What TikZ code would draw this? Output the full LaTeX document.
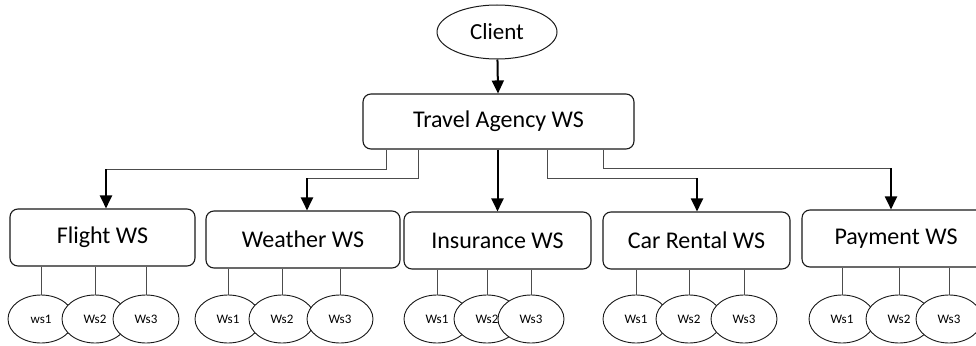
\documentclass[tikz,border=0pt]{standalone}
\usepackage{fontspec}
\setmainfont{Carlito}
\usetikzlibrary{arrows.meta,shapes.geometric}

\tikzset{
  wsbox/.style={draw=black!90, line width=1.1pt, rounded corners=8pt, minimum height=57pt,
                inner sep=0pt, font=\fontsize{24}{28}\selectfont},
  subws/.style={ellipse, draw=black!90, line width=0.9pt, fill=white, minimum width=66pt,
                minimum height=48pt, inner sep=0pt, font=\fontsize{13}{15}\selectfont},
  link/.style={draw=black!70, line width=1pt},
  call/.style={line width=2pt, -{Triangle[length=13pt,width=12pt]}}
}

\begin{document}
\begin{tikzpicture}[x=1pt,y=-1pt]
\useasboundingbox (0,0) rectangle (976,345);

\node[ellipse, draw=black!90, line width=1pt, minimum width=120pt, minimum height=54pt,
      inner sep=0pt, font=\fontsize{23}{27}\selectfont] (client) at (497,32) {Client};
\node[wsbox, minimum width=271pt, minimum height=55pt] (ta) at (498.5,121.5) {Travel Agency WS};

\node[wsbox, minimum width=185pt] (fl)  at (102.5,237.5) {Flight WS};
\node[wsbox, minimum width=194pt] (we)  at (303,239.5)   {Weather WS};
\node[wsbox, minimum width=187pt] (ins) at (497.5,240.5) {Insurance WS};
\node[wsbox, minimum width=187pt] (car) at (696.5,240.5) {Car Rental WS};
\node[wsbox, minimum width=188pt] (pay) at (896,238.5)   {Payment WS};

\draw[call] (client) -- (ta);

% bends of the calls
\coordinate (kf) at (106,169);
\coordinate (kw) at (307,178);
\coordinate (kc) at (697,178);
\coordinate (kp) at (891,168);

\draw[link] ([xshift=24pt]ta.south west) |- (kf);
\draw[call] (kf) -- (kf |- fl.north);
\draw[link] ([xshift=56pt]ta.south west) |- (kw);
\draw[call] (kw) -- (kw |- we.north);
\draw[call] (ins.north |- ta.south) -- (ins.north);
\draw[link] ([xshift=-87pt]ta.south east) |- (kc);
\draw[call] (kc) -- (kc |- car.north);
\draw[link] ([xshift=-31pt]ta.south east) |- (kp);
\draw[call] (kp) -- (kp |- pay.north);

% sub services
\foreach \p/\a/\b/\c/\first in {fl/41/95/146/ws1, we/228/282/340/Ws1,
    ins/437/487/531/Ws1, car/636/689/744/Ws1, pay/842/899/949/Ws1} {
  \node[subws] (\p1) at (\a,319) {\first};
  \node[subws] (\p2) at (\b,319) {Ws2};
  \node[subws] (\p3) at (\c,319) {Ws3};
  \foreach \i in {1,2,3}
    \draw[link] (\p\i.north |- \p.south) -- (\p\i.north);
}
\end{tikzpicture}
\end{document}
